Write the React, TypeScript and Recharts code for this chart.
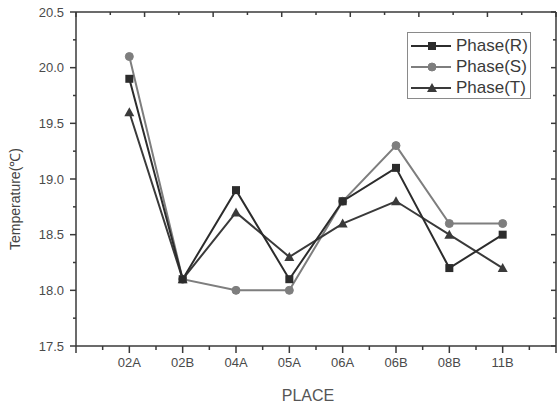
import React from "react";
import { LineChart, Line, XAxis, YAxis } from "recharts";

/* ─── data ─── */
const places = ["02A", "02B", "04A", "05A", "06A", "06B", "08B", "11B"];
const phaseR = [19.9, 18.1, 18.9, 18.1, 18.8, 19.1, 18.2, 18.5];
const phaseS = [20.1, 18.1, 18.0, 18.0, 18.8, 19.3, 18.6, 18.6];
const phaseT = [19.6, 18.1, 18.7, 18.3, 18.6, 18.8, 18.5, 18.2];

// major + minor tick positions (minor = halfway marks)
const xTicks = [0, 0.5, 1, 1.5, 2, 2.5, 3, 3.5, 4, 4.5, 5, 5.5, 6, 6.5, 7, 7.5, 8, 8.5, 9];
const yTicks = [17.5, 17.75, 18.0, 18.25, 18.5, 18.75, 19.0, 19.25, 19.5, 19.75, 20.0, 20.25, 20.5];

const data = places.map((place, i) => ({
  pos: i + 1,
  place,
  r: phaseR[i],
  s: phaseS[i],
  t: phaseT[i],
}));

const W = 557;
const H = 407;
const AXIS = "#3a3a3a";
const TICK_TEXT = "#4a4a4a";
const FONT = "'Liberation Sans', Arial, sans-serif";

const COL_R = "#2c2c2c";
const COL_S = "#7e7e7e";
const COL_T = "#3a3a3a";

const isMajorX = (v: number) => Number.isInteger(v);
const isMajorY = (v: number) => Math.abs(v * 2 - Math.round(v * 2)) < 1e-6;

/* ─── tick renderers (tickSize/tickMargin 0 → x,y sit on the axis line) ─── */
function BottomTick({ x, y, payload }: any) {
  const v = payload.value;
  const major = isMajorX(v);
  const label = major ? places[v - 1] : undefined;
  return (
    <g>
      <line x1={x} y1={y} x2={x} y2={y + (major ? 7 : 4)} stroke={AXIS} strokeWidth={1.5} />
      {label && (
        <text x={x} y={y + 21} textAnchor="middle" fontSize={13} fill={TICK_TEXT} fontFamily={FONT}>
          {label}
        </text>
      )}
    </g>
  );
}

function TopTick({ x, y, payload }: any) {
  const major = isMajorX(payload.value);
  return <line x1={x} y1={y} x2={x} y2={y + (major ? 5 : 3)} stroke={AXIS} strokeWidth={1.5} />;
}

function LeftTick({ x, y, payload }: any) {
  const v = payload.value;
  const major = isMajorY(v);
  return (
    <g>
      <line x1={x} y1={y} x2={x - (major ? 6 : 3)} y2={y} stroke={AXIS} strokeWidth={1.5} />
      {major && (
        <text x={x - 12} y={y + 4.5} textAnchor="end" fontSize={13} fill={TICK_TEXT} fontFamily={FONT}>
          {v.toFixed(1)}
        </text>
      )}
    </g>
  );
}

function RightTick({ x, y, payload }: any) {
  const major = isMajorY(payload.value);
  return <line x1={x} y1={y} x2={x - (major ? 5 : 3)} y2={y} stroke={AXIS} strokeWidth={1.5} />;
}

/* ─── markers ─── */
const Square = ({ cx, cy, fill }: any) =>
  cx == null ? null : <rect x={cx - 4} y={cy - 4} width={8} height={8} fill={fill} />;
const Circle = ({ cx, cy, fill }: any) =>
  cx == null ? null : <circle cx={cx} cy={cy} r={4} fill={fill} stroke={fill} strokeWidth={1} />;
const Triangle = ({ cx, cy, fill }: any) =>
  cx == null ? null : (
    <polygon points={`${cx},${cy - 5} ${cx - 5},${cy + 4} ${cx + 5},${cy + 4}`} fill={fill} />
  );

const legendItems = [
  { name: "Phase(R)", color: COL_R, Mark: Square },
  { name: "Phase(S)", color: COL_S, Mark: Circle },
  { name: "Phase(T)", color: COL_T, Mark: Triangle },
];

function Legend() {
  return (
    <div
      style={{
        position: "absolute",
        left: 407,
        top: 32,
        width: 122,
        height: 65,
        border: "1px solid #8a8a8a",
        background: "#fff",
        fontFamily: FONT,
      }}
    >
      {legendItems.map(({ name, color, Mark }, i) => (
        <div key={name} style={{ position: "absolute", left: 3, top: 3 + i * 21, height: 20, display: "flex", alignItems: "center" }}>
          <svg width={42} height={20}>
            <line x1={0} y1={10} x2={40} y2={10} stroke={color} strokeWidth={1.8} />
            <Mark cx={21} cy={10} fill={color} />
          </svg>
          <span style={{ fontSize: 17, color: "#3a3a3a", marginLeft: 3, lineHeight: "20px" }}>{name}</span>
        </div>
      ))}
    </div>
  );
}

const axisLine = { stroke: AXIS, strokeWidth: 1.5 };

export default function App() {
  return (
    <div style={{ position: "absolute", left: 0, top: 0, width: W, height: H, background: "#fff" }}>
      {/* plot box: left 76, right 556, top 12, bottom 346 */}
      <LineChart width={W} height={H} data={data} margin={{ top: 11, right: 0, bottom: 60, left: 75 }}>
        <XAxis xAxisId="x" dataKey="pos" orientation="bottom" type="number" domain={[0, 9]} allowDataOverflow
          ticks={xTicks} interval={0} height={1} tickSize={0} tickMargin={0}
          tick={(p: any) => <BottomTick {...p} />} tickLine={false} axisLine={axisLine}
          label={{
            content: () => (
              <text x={308} y={401} textAnchor="middle" fontSize={16} fill="#555" fontFamily={FONT}>PLACE</text>
            ),
          }}
        />
        <XAxis xAxisId="xt" orientation="top" type="number" domain={[0, 9]} allowDataOverflow
          ticks={xTicks} interval={0} height={1} tickSize={0} tickMargin={0}
          tick={(p: any) => <TopTick {...p} />} tickLine={false} axisLine={axisLine} />
        <YAxis yAxisId="y" orientation="left" type="number" domain={[17.5, 20.5]} allowDataOverflow
          ticks={yTicks} interval={0} width={1} tickSize={0} tickMargin={0}
          tick={(p: any) => <LeftTick {...p} />} tickLine={false} axisLine={axisLine}
          label={{
            content: () => (
              <text x={20} y={199} transform="rotate(-90 20 199)" textAnchor="middle" fontSize={14} fill="#444" fontFamily={FONT}>
                Temperature(℃)
              </text>
            ),
          }}
        />
        <YAxis yAxisId="yr" orientation="right" type="number" domain={[17.5, 20.5]} allowDataOverflow
          ticks={yTicks} interval={0} width={1} tickSize={0} tickMargin={0}
          tick={(p: any) => <RightTick {...p} />} tickLine={false} axisLine={axisLine} />

        <Line xAxisId="x" yAxisId="y" dataKey="s" name="Phase(S)" stroke={COL_S} strokeWidth={2}
          dot={<Circle fill={COL_S} />} activeDot={false} isAnimationActive={false} />
        <Line xAxisId="x" yAxisId="y" dataKey="t" name="Phase(T)" stroke={COL_T} strokeWidth={2}
          dot={<Triangle fill={COL_T} />} activeDot={false} isAnimationActive={false} />
        <Line xAxisId="x" yAxisId="y" dataKey="r" name="Phase(R)" stroke={COL_R} strokeWidth={2}
          dot={<Square fill={COL_R} />} activeDot={false} isAnimationActive={false} />
      </LineChart>
      <Legend />
    </div>
  );
}
